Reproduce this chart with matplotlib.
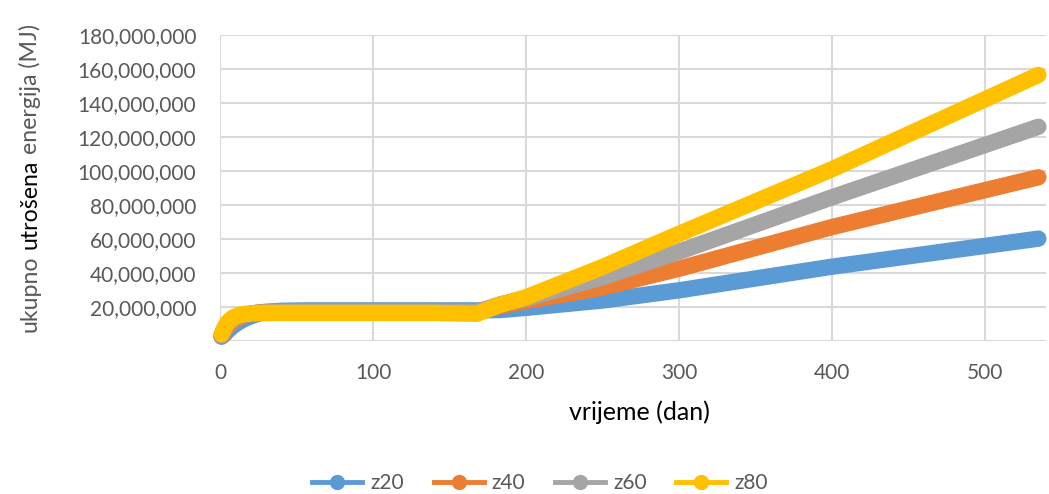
import numpy as np
import matplotlib
matplotlib.use('Agg')
import matplotlib.pyplot as plt
from matplotlib.lines import Line2D
from matplotlib.ticker import FuncFormatter

# --- data (energy in millions of MJ) ---
days = [1, 3, 5, 8, 12, 16, 20, 25, 30, 40, 60, 100, 140, 168, 183, 200, 250, 300, 400, 535]
z20 = [2.5, 4.0, 6.0, 8.5, 11.0, 13.0, 14.5, 16.0, 17.0, 17.8, 18.0, 18.0, 18.0, 18.0, 18.2, 19.5, 23.8, 29.8, 43.7, 60.2]
z40 = [3.0, 6.0, 8.5, 11.0, 13.5, 15.0, 16.0, 16.8, 17.2, 17.5, 17.6, 17.6, 17.6, 17.5, 20.5, 23.5, 31.5, 42.5, 67.0, 96.3]
z60 = [3.5, 7.0, 10.0, 12.5, 14.5, 15.5, 16.2, 16.6, 16.8, 17.0, 17.1, 17.1, 17.1, 17.0, 21.5, 25.0, 37.5, 52.5, 84.5, 126.0]
z80 = [4.0, 8.0, 11.0, 13.5, 15.2, 15.9, 16.2, 16.4, 16.5, 16.5, 16.5, 16.5, 16.5, 16.0, 21.3, 25.7, 43.5, 63.0, 101.0, 156.5]

series_names = ['z20', 'z40', 'z60', 'z80']
series_vals = [z20, z40, z60, z80]
colors = ['#5B9BD5', '#ED7D31', '#A5A5A5', '#FFC000']

x_ticks = [0, 100, 200, 300, 400, 500]
y_ticks = [0, 20, 40, 60, 80, 100, 120, 140, 160, 180]

FONT = 'Lato'
GREY = '#595959'
plt.rcParams['font.family'] = [FONT, 'DejaVu Sans']

W, H = 1049, 494
fig = plt.figure(figsize=(W / 100, H / 100), dpi=100)
ax = fig.add_axes([220 / W, 1 - 341 / H, (1046 - 220) / W, (341 - 35) / H])

for name, vals, c in zip(series_names, series_vals, colors):
    ax.plot(days, np.array(vals) * 1e6, color=c, lw=11.8, clip_on=False,
            solid_capstyle='round', solid_joinstyle='round')

ax.set_xlim(0, 540)
ax.set_ylim(0, 180e6)
ax.set_xticks(x_ticks)
ax.set_yticks([v * 1e6 for v in y_ticks])
ax.yaxis.set_major_formatter(FuncFormatter(lambda v, p: '' if v == 0 else f'{v:,.0f}'))
ax.grid(True, color='#D9D9D9', lw=1.5)
ax.set_axisbelow(True)
for s in ax.spines.values():
    s.set_visible(False)
ax.tick_params(length=0, labelsize=15, colors=GREY)
ax.tick_params(axis='x', pad=16)
ax.tick_params(axis='y', pad=17)

fig.text(639 / W, 1 - 412 / H, 'vrijeme (dan)', ha='center', va='center',
         fontsize=18, color='black')

# y label: "ukupno" / "utrošena" / "energija (MJ)" with the middle word darker
YFS = 16.7
ylab_parts = [('ukupno ', GREY), ('utrošena ', 'black'), ('energija (MJ)', GREY)]
full = ''.join(p for p, _ in ylab_parts)
fig.canvas.draw()
r = fig.canvas.get_renderer()

def text_w(s):
    t = fig.text(0, 0, s, fontsize=YFS)
    w = t.get_window_extent(r).width
    t.remove()
    return w

total = text_w(full)
cx = 30
y_start = (H - 178) - total / 2
prefix = ''
for part, c in ylab_parts:
    off = text_w(prefix + part.strip()) - text_w(part.strip()) if prefix else 0
    fig.text(cx / W, (y_start + off) / H, part.strip(), rotation=90,
             rotation_mode='anchor', ha='left', va='center', fontsize=YFS, color=c)
    prefix += part

handles = [Line2D([], [], color=c, lw=3.5, marker='o', ms=10) for c in colors]
fig.legend(handles, series_names, loc='center', bbox_to_anchor=(540 / W, 1 - 483 / H),
           ncol=4, frameon=False, fontsize=15, labelcolor=GREY, handlelength=2.4,
           columnspacing=1.4, handletextpad=0.4)

fig.savefig('out.png', dpi=100)
